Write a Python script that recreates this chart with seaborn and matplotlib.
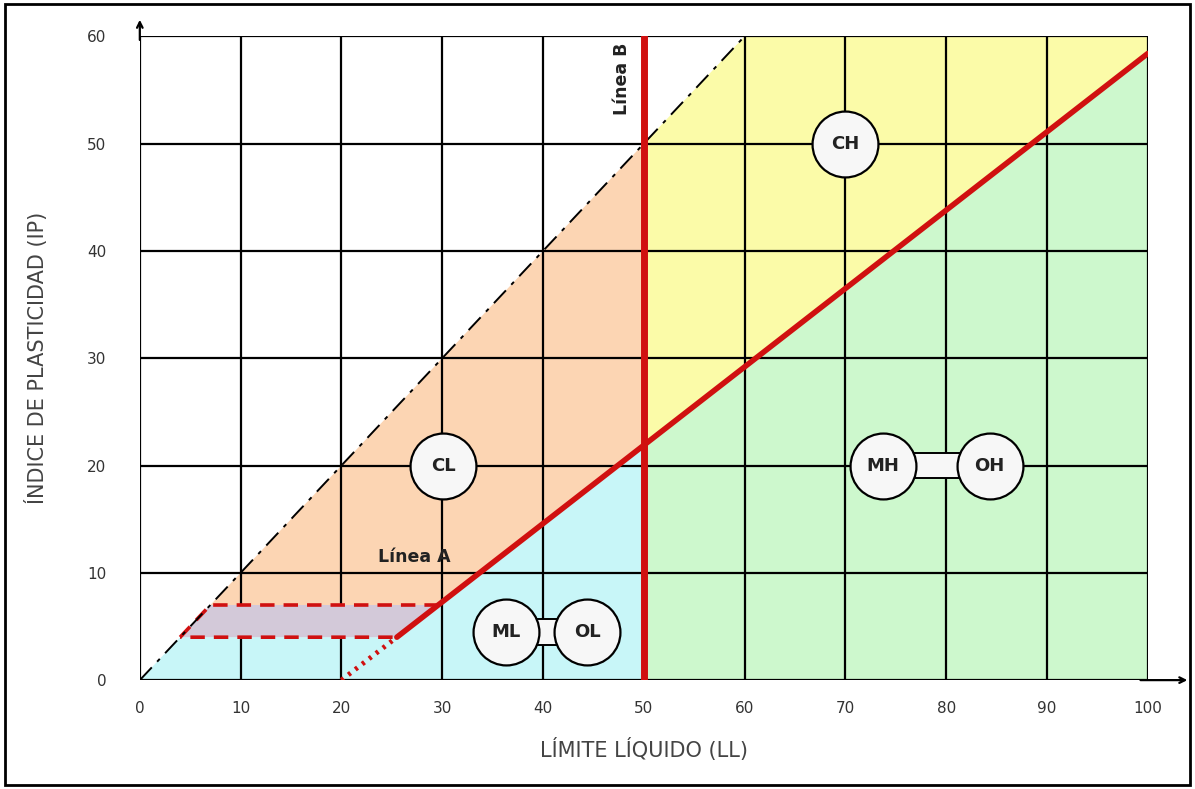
import numpy as np
import pandas as pd
import matplotlib.pyplot as plt
import seaborn as sns
from matplotlib.patches import Polygon, Rectangle

# -------------------------
# Data (LL on x, IP on y)
# -------------------------
x_ticks = [0, 10, 20, 30, 40, 50, 60, 70, 80, 90, 100]
y_ticks = [0, 10, 20, 30, 40, 50, 60]

# Linea A (solid part) and its dotted start
linea_a_ll = [25.5, 100]
linea_a_ip = [4, 58.4]
linea_a_dot_ll = [20, 25.5]
linea_a_dot_ip = [0, 4]

# upper limit line (dash-dot)
linea_u_ll = [0, 60]
linea_u_ip = [0, 60]

# Linea B
linea_b_ll = [50, 50]
linea_b_ip = [0, 60]

# zones
zona_ml_ll = [0, 4, 25.5, 50, 50]
zona_ml_ip = [0, 4, 4, 21.9, 0]
zona_clml_ll = [4, 7, 29.6, 25.5]
zona_clml_ip = [4, 7, 7, 4]
zona_cl_ll = [7, 50, 50, 29.6]
zona_cl_ip = [7, 50, 21.9, 7]
zona_ch_ll = [50, 60, 100, 100, 50]
zona_ch_ip = [50, 60, 60, 58.4, 21.9]
zona_mh_ll = [50, 100, 100, 50]
zona_mh_ip = [0, 0, 58.4, 21.9]

# group labels
circ_labels = ['CL', 'CH', 'ML', 'OL', 'MH', 'OH']
circ_ll = [30.1, 70, 36.3, 44.4, 73.7, 84.3]
circ_ip = [20, 50, 4.5, 4.5, 20, 20]

# -------------------------
# Plot
# -------------------------
sns.set_style('white')
plt.rcParams['font.family'] = ['DejaVu Sans']

fig = plt.figure(figsize=(11.95, 7.89), dpi=100)
ax = fig.add_axes([0.117, 0.138, 0.8435, 0.816])

c_blue = '#c8f6f8'
c_orange = '#fcd5b3'
c_yellow = '#fbfba8'
c_green = '#cdf8cd'
c_purple = '#d3c9d9'
c_red = '#d01010'

for xs, ys, col in [(zona_ml_ll, zona_ml_ip, c_blue),
                    (zona_cl_ll, zona_cl_ip, c_orange),
                    (zona_ch_ll, zona_ch_ip, c_yellow),
                    (zona_mh_ll, zona_mh_ip, c_green)]:
    ax.add_patch(Polygon(np.column_stack([xs, ys]), closed=True,
                         facecolor=col, edgecolor='none', zorder=0))

# CL-ML band with red dashed outline
ax.add_patch(Polygon(np.column_stack([zona_clml_ll, zona_clml_ip]), closed=True,
                     facecolor=c_purple, edgecolor=c_red, linestyle=(0, (4, 2.5)),
                     linewidth=2.6, zorder=2))

# grid
for xv in x_ticks:
    ax.axvline(xv, color='black', lw=1.6, zorder=1)
for yv in y_ticks:
    ax.axhline(yv, color='black', lw=1.6, zorder=1)

# lines
sns.lineplot(x=linea_u_ll, y=linea_u_ip, ax=ax, color='black', lw=1.4,
             linestyle=(0, (9, 4, 2, 4)), zorder=2, estimator=None, sort=False)
sns.lineplot(x=linea_a_ll, y=linea_a_ip, ax=ax, color=c_red, lw=4, zorder=3,
             estimator=None, sort=False)
sns.lineplot(x=linea_a_dot_ll, y=linea_a_dot_ip, ax=ax, color=c_red, lw=3.5,
             linestyle=(0, (0.6, 1.2)), zorder=3, estimator=None, sort=False)
sns.lineplot(x=linea_b_ll, y=linea_b_ip, ax=ax, color=c_red, lw=5, zorder=3,
             estimator=None, sort=False)

# connectors between ML-OL and MH-OH
for i, j in [(2, 3), (4, 5)]:
    x0, x1 = circ_ll[i], circ_ll[j]
    ax.add_patch(Rectangle((x0, circ_ip[i] - 1.2), x1 - x0, 2.4,
                           facecolor='#f7f7f7', edgecolor='black', lw=1.4, zorder=4))

ax.scatter(circ_ll, circ_ip, s=2250, facecolor='#f7f7f7', edgecolor='black',
           linewidth=1.6, zorder=5)
for lab, xx, yy in zip(circ_labels, circ_ll, circ_ip):
    ax.text(xx, yy, lab, ha='center', va='center', fontsize=13,
            fontweight='semibold', color='#222222', zorder=6)

ax.text(27.2, 11.5, 'Línea A', ha='center', va='center', fontsize=12.5,
        fontweight='semibold', color='#222222', zorder=6)
ax.text(47.8, 56, 'Línea B', ha='center', va='center', fontsize=12.5,
        fontweight='semibold', rotation=90, color='#222222', zorder=6)

# axes
ax.set_xlim(0, 100)
ax.set_ylim(0, 60)
ax.set_xticks(x_ticks)
ax.set_yticks(y_ticks)
ax.tick_params(axis='x', length=5, width=1.5, pad=10, labelsize=11,
               labelcolor='#333333', direction='out', color='black')
ax.tick_params(axis='y', length=0, pad=24, labelsize=11, labelcolor='#333333')
for s in ax.spines.values():
    s.set_visible(False)
ax.set_xlabel('LÍMITE LÍQUIDO (LL)', fontsize=15, color='#444444', labelpad=16)
ax.set_ylabel('ÍNDICE DE PLASTICIDAD (IP)', fontsize=15, color='#444444', labelpad=28)

# axis arrows
ax.annotate('', xy=(1.042, 0), xytext=(0.99, 0), xycoords='axes fraction',
            arrowprops=dict(arrowstyle='->', lw=1.6, color='black'))
ax.annotate('', xy=(0, 1.03), xytext=(0, 0.99), xycoords='axes fraction',
            arrowprops=dict(arrowstyle='->', lw=1.6, color='black'))

# image frame
fig.add_artist(Rectangle((0.004, 0.005), 0.992, 0.99, transform=fig.transFigure,
                         fill=False, edgecolor='black', lw=2))

fig.savefig('out.png', dpi=100)
